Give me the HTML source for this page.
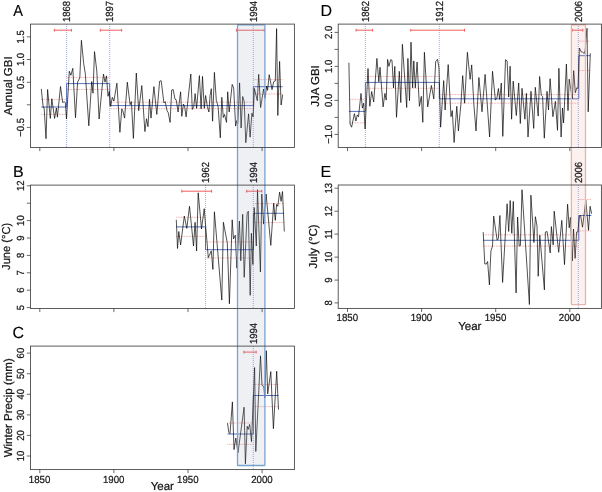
<!DOCTYPE html>
<html><head><meta charset="utf-8"><title>Figure</title>
<style>
html,body{margin:0;padding:0;background:#fff;}
svg{display:block}
text{font-family:"Liberation Sans", Arial, Helvetica, sans-serif;text-rendering:geometricPrecision;fill:#151515;stroke:#151515;stroke-width:0.22px}
.pl{font-size:16px;fill:#000;stroke-width:0.15px}
.tk{font-size:10.3px}
.ax{font-size:11.5px}
.box{fill:none;stroke:#404040;stroke-width:0.85}
.tick{stroke:#383838;stroke-width:0.75;fill:none}
.ser{fill:none;stroke:#000;stroke-width:0.68;stroke-linejoin:miter;stroke-miterlimit:10}
.mean{fill:none;stroke:#3a58ad;stroke-width:0.85}
.sd{fill:none;stroke:#ef7d7d;stroke-width:0.8;stroke-dasharray:0.75 0.85}
.vd{fill:none;stroke:#a6b1ea;stroke-width:1.1;stroke-dasharray:0.9 1.1}
.ci{fill:none;stroke:#ee4c4c;stroke-width:0.9}
</style></head><body>
<svg width="602" height="492" viewBox="0 0 602 492">
<rect x="0" y="0" width="602" height="492" fill="#fff"/>

<g id="panel-A-data">
<line class="vd" x1="66.6" y1="24.1" x2="66.6" y2="147.5"/>
<line class="vd" x1="109.7" y1="24.1" x2="109.7" y2="147.5"/>
<line class="vd" x1="253.3" y1="24.1" x2="253.3" y2="147.5"/>
<line class="sd" x1="41.3" y1="99.4" x2="66.6" y2="99.4"/>
<line class="sd" x1="41.3" y1="114.4" x2="66.6" y2="114.4"/>
<line class="sd" x1="66.6" y1="77.4" x2="109.7" y2="77.4"/>
<line class="sd" x1="66.6" y1="89.5" x2="109.7" y2="89.5"/>
<line class="sd" x1="109.7" y1="102.2" x2="253.4" y2="102.2"/>
<line class="sd" x1="109.7" y1="108.7" x2="253.4" y2="108.7"/>
<line class="sd" x1="253.4" y1="79.6" x2="282.6" y2="79.6"/>
<line class="sd" x1="253.4" y1="94" x2="282.6" y2="94"/>
<path class="mean" d="M41.3 107 L66.6 107 L66.6 83.6 L109.7 83.6 L109.7 105.6 L253.4 105.6 L253.4 86.7 L282.6 86.7"/>
<polyline class="ser" points="41.3,88.9 43.2,107.4 44.1,107.4 46,138.7 47.6,89.5 50.3,118.4 51.8,98.8 54.6,118.4 56.4,108 57.4,117.2 60.5,86.5 62.6,102.4 64.4,101.8 65.3,102.4 66.5,119 69.3,71.3 70.9,75.3 72.8,68.3 75.5,117.8 77.6,82.1 79.8,77.8 81.4,40.3 83.7,63.6 85.3,73.5 88.8,125.8 91.7,81.5 93,93.2 94.5,51.6 96.8,71 99.1,119 102.5,83.3 103.5,74.1 105,82.1 106.5,75.9 108,96.3 109.3,91.4 110.7,106.4 112.3,97.3 113.9,101 116.9,83.2 119.9,132.3 121.8,108.9 122.8,110.7 124.6,118.1 127.3,82.2 130.1,104.7 131.4,101.6 133.4,138.4 136.3,73 138.7,110.7 141.8,85.6 144.9,131.6 146.5,118.7 148,126.7 149.5,99.2 151,118.1 153.9,86.6 156.8,114.4 159.6,81.3 161.2,80.7 163.9,102.9 165.2,101.6 167,110.7 168.2,112.6 170.1,122.4 171.7,90 173.2,89.6 175,99.2 176.2,99.8 178.1,112 180.6,91.8 181.8,116.3 183.4,104.1 184.5,105.8 186.1,116.9 190.8,74 192.3,109.5 193.8,106.4 195.1,93.6 196.6,108.3 199.4,75.6 201.1,108.9 202.5,76.4 204.3,108.3 205.6,95.5 207.3,106.4 208.9,112 210.1,95.5 211.3,88.7 212.6,121.2 214.4,72.4 216.3,100.4 218.1,106.4 220.3,137.8 221.8,97.3 223.3,117.5 224.5,114.4 226.5,122.4 227.7,91.8 229.2,112 232.2,84.4 233.7,88.1 235.6,126.1 236.8,120.6 237.8,123.6 239.6,82.9 241.1,128 242.7,96.5 244.2,101.6 245.8,142.7 248.6,113.8 250.1,137.2 251.9,113.2 253.1,116.9 254.4,88.4 257.3,100.7 258.7,74.3 260.6,107.5 263.6,89 264.9,98.3 266.7,86 267.6,90.3 269.2,74.7 272,89.7 273.7,81.7 275.3,81 276.6,28.6 277.8,115.5 279.6,61.4 281.1,105 282.7,94.6"/>
<path class="ci" d="M54.3 30.2H71.4M54.3 28.8V31.6M71.4 28.8V31.6"/>
<path class="ci" d="M100.3 30.2H121.7M100.3 28.8V31.6M121.7 28.8V31.6"/>
<path class="ci" d="M236.4 30.2H264.3M236.4 28.8V31.6M264.3 28.8V31.6"/>
</g>
<g id="panel-B-data">
<line class="vd" x1="205.5" y1="185.1" x2="205.5" y2="308.5"/>
<line class="vd" x1="253.3" y1="185.1" x2="253.3" y2="308.5"/>
<line class="sd" x1="176.3" y1="217.3" x2="205.5" y2="217.3"/>
<line class="sd" x1="176.3" y1="236.4" x2="205.5" y2="236.4"/>
<line class="sd" x1="205.5" y1="241.9" x2="253.4" y2="241.9"/>
<line class="sd" x1="205.5" y1="258" x2="253.4" y2="258"/>
<line class="sd" x1="253.4" y1="203.6" x2="283.9" y2="203.6"/>
<line class="sd" x1="253.4" y1="222.5" x2="283.9" y2="222.5"/>
<path class="mean" d="M176.3 226.9 L205.5 226.9 L205.5 249.7 L253.4 249.7 L253.4 213.3 L283.9 213.3"/>
<polyline class="ser" points="176.3,219.8 177.5,248.5 178.8,231.5 180.6,245 184.3,216.1 186.8,228.4 189.5,206.3 193.5,246 195.1,222.3 196.6,250.9 198.2,192.8 201.5,229 204.2,208.7 208.3,257.7 211.3,250.9 212.9,269.4 214.4,211.8 221.8,300.1 223.4,222.3 227.3,243 229.4,303.8 232.2,219.8 233.5,238.9 235.3,235.2 236.8,268.1 239.4,221 240.8,260.8 242.7,214.3 244.2,277.3 247.1,213.7 248.3,211.2 250.2,295.3 251.4,233.3 252.9,264.6 254.2,207.5 256.3,246 257.5,189.7 260.4,272 261.8,194 263.6,224.1 266.1,194 270.8,245.4 273.7,203.2 275.3,220.4 276.6,204.4 277.8,206.3 279.6,192.1 281.1,201.4 282.5,191.5 284.3,231.5"/>
<path class="ci" d="M181.8 191.2H211.6M181.8 189.8V192.6M211.6 189.8V192.6"/>
<path class="ci" d="M246.7 191.2H261.8M246.7 189.8V192.6M261.8 189.8V192.6"/>
</g>
<g id="panel-C-data">
<line class="vd" x1="253.3" y1="346.1" x2="253.3" y2="469.6"/>
<line class="sd" x1="227.5" y1="423" x2="253.4" y2="423"/>
<line class="sd" x1="227.5" y1="444.4" x2="253.4" y2="444.4"/>
<line class="sd" x1="253.4" y1="384.4" x2="278.5" y2="384.4"/>
<line class="sd" x1="253.4" y1="406.6" x2="278.5" y2="406.6"/>
<path class="mean" d="M227.5 434 L253.4 434 L253.4 395.5 L278.5 395.5"/>
<polyline class="ser" points="227.5,423.2 228.8,432.4 230,433.7 232.4,401.9 234,449.6 235.8,438 238,452.7 244.1,407.2 245.4,463.8 247.2,426.3 248.2,429.4 249.7,424.4 251.5,441.6 254.6,367.5 255.8,451.5 260.5,355.8 262,385.3 263.8,386.6 264.8,398 266.3,350.7 267.7,393.9 270.8,371.6 273.4,428.7 276.7,371.2 278.5,409.7"/>
<path class="ci" d="M243.9 352.1H256.2M243.9 350.7V353.5M256.2 350.7V353.5"/>
</g>
<g id="panel-D-data">
<line class="vd" x1="365.4" y1="24.1" x2="365.4" y2="147.5"/>
<line class="vd" x1="439.3" y1="24.1" x2="439.3" y2="147.5"/>
<line class="vd" x1="578.3" y1="24.1" x2="578.3" y2="147.5"/>
<line class="sd" x1="348.9" y1="99.3" x2="365.4" y2="99.3"/>
<line class="sd" x1="348.9" y1="122.9" x2="365.4" y2="122.9"/>
<line class="sd" x1="365.4" y1="76.5" x2="439.3" y2="76.5"/>
<line class="sd" x1="365.4" y1="88.3" x2="439.3" y2="88.3"/>
<line class="sd" x1="439.3" y1="94.6" x2="578.8" y2="94.6"/>
<line class="sd" x1="439.3" y1="103.2" x2="578.8" y2="103.2"/>
<line class="sd" x1="578.8" y1="41.2" x2="590.2" y2="41.2"/>
<line class="sd" x1="578.8" y1="70.5" x2="590.2" y2="70.5"/>
<path class="mean" d="M348.9 111.4 L365.4 111.4 L365.4 82.4 L439.3 82.4 L439.3 98.8 L578.8 98.8 L578.8 55.7 L590.2 55.7"/>
<polyline class="ser" points="348.9,62.7 350.1,124.1 351.6,127.2 354.4,113.7 355.9,121 357.3,114.9 358.5,116.7 361,93.4 362.4,108.1 363.7,103.2 365.1,129 368,68.5 369.8,106.3 371.7,91.5 373.7,102 376.9,58.4 378.8,81.8 380,67.3 383.1,106.9 384.9,93.4 386.2,100.1 387.6,59.4 388.9,66.4 390.7,59.7 392,60.3 393.5,87.9 394.8,66.4 396.5,117.3 399.3,71.3 400.8,102.6 402.4,44.3 406.7,107.5 407.9,58.4 409.5,100.8 411,42.2 412.6,87.9 413.8,60.9 415.3,87.9 417.1,62.1 419.4,106.3 421.3,96.4 422.8,122.3 424.4,52.3 427.7,106.9 431.4,85.5 433.8,98.9 435.7,61.5 437.5,59.3 439,68 440.6,127.2 443.7,80.6 445.1,110 448.2,64.6 451,116.7 452.3,110.6 454.1,142.5 456.8,106.3 458.4,130.9 460.9,104.4 462.7,75.6 464.6,103.2 467.4,52.3 470.1,79.3 471.7,64.9 473.8,103.8 476,130.9 478.9,77.5 482,111.8 485.1,74.4 489.6,137 492.5,71.3 495.4,100.1 496.9,98.3 498.4,88.5 499.7,99.5 501.3,83 502.8,136.4 505.5,59.7 507.1,60.9 508.7,97 510.1,66.2 511.6,119.2 513.2,81.2 516.3,115.5 518.7,83 520.3,123.5 522,88.3 524.9,119.2 526.4,93.4 528,137 531,91.3 533.7,128.4 535.3,87.3 538.2,116.1 539.6,76.5 541.3,95.2 542.6,96.4 544.3,138.2 547,91.3 548.5,110 550.1,78.7 552.9,116.7 555.4,101.4 557.5,130.3 558.9,68.3 561.1,137 562.5,108 563.6,122.9 566.4,64 568,110.6 569.2,79.2 572.3,98.9 573.7,70.6 575.3,92.7 576.8,87.8 578,88.4 579.4,48 581.1,51.7 582.7,52.3 584.3,53.5 585.2,49.8 587,28.3 588.2,111.8 590.3,53.3"/>
<path class="ci" d="M356.1 30.2H372.6M356.1 28.8V31.6M372.6 28.8V31.6"/>
<path class="ci" d="M410.8 30.2H464.5M410.8 28.8V31.6M464.5 28.8V31.6"/>
<path class="ci" d="M572.2 30.2H582.8M572.2 28.8V31.6M582.8 28.8V31.6"/>
</g>
<g id="panel-E-data">
<line class="vd" x1="578.3" y1="185" x2="578.3" y2="308.4"/>
<line class="sd" x1="483.2" y1="234.8" x2="578.8" y2="234.8"/>
<line class="sd" x1="483.2" y1="246.1" x2="578.8" y2="246.1"/>
<line class="sd" x1="578.8" y1="199.5" x2="591.4" y2="199.5"/>
<line class="sd" x1="578.8" y1="230.9" x2="591.4" y2="230.9"/>
<path class="mean" d="M483.2 240.3 L578.8 240.3 L578.8 215.5 L591.4 215.5"/>
<polyline class="ser" points="483.2,232.1 484.8,264 486.4,264 487.6,261.5 489.4,284.9 490.9,251.1 492.5,246.1 493.7,216.1 497.1,240.1 498.3,238.9 499.9,215.5 502.6,282.4 507.1,203.8 508.7,231.5 510.2,200.5 511.8,233.3 513.3,201.4 516.1,292.9 517.6,217 519.2,246.1 520.4,245.5 522,189.7 529.4,304.5 530.9,195.2 532.7,222.9 533.9,242.5 535.4,216.7 537,226 538.2,276.3 539.8,235.2 544.4,289.8 545.4,232.1 547.1,231.5 550.2,252.9 551.4,226.6 553.2,244.9 554.2,211.2 558.7,252.3 561.8,220.4 564.5,264.6 567.6,204.2 569.2,227.8 570.4,217.3 572.3,260.9 573.5,229 575.1,258.4 576.6,232.1 577.8,232.1 579.4,216.1 580.6,215.5 582.5,227.2 584.3,213 585.8,200.1 588.5,230.3 590.1,206.3 591.6,213.7"/>
</g>
<rect x="237.5" y="24.9" width="27.4" height="440.6" rx="0.4" ry="0.4" fill="#8b97b8" fill-opacity="0.15" stroke="#7aa2d0" stroke-width="1.3"/>
<rect x="571.4" y="24.7" width="14.1" height="279.9" rx="0.6" ry="0.6" fill="#d88a7c" fill-opacity="0.115" stroke="#e8b4ae" stroke-width="1.35"/>
<g id="panel-A-frame">
<rect class="box" x="30.5" y="24.1" width="263.9" height="123.4"/>
<path class="tick" d="M39.8 147.5v3.6M113.9 147.5v3.6M188 147.5v3.6M262.1 147.5v3.6M30.5 36.9h-3.7M30.5 59.5h-3.7M30.5 82.3h-3.7M30.5 104.8h-3.7M30.5 127.4h-3.7"/>
<text class="tk" text-anchor="middle" transform="translate(24.1 36.9) rotate(-90) scale(0.92 1)">1.5</text>
<text class="tk" text-anchor="middle" transform="translate(24.1 59.5) rotate(-90) scale(0.92 1)">1.0</text>
<text class="tk" text-anchor="middle" transform="translate(24.1 82.3) rotate(-90) scale(0.92 1)">0.5</text>
<text class="tk" text-anchor="middle" transform="translate(24.1 127.4) rotate(-90) scale(0.92 1)">−0.5</text>
<text class="ax" text-anchor="middle" transform="translate(11.6 85.8) rotate(-90) scale(1 1)">Annual GBI</text>
<text class="pl" transform="translate(13.2 15.6) scale(0.91 1)">A</text>
<text class="tk" transform="translate(69.8 22.1) rotate(-90) scale(0.92 1)">1868</text>
<text class="tk" transform="translate(112.9 22.1) rotate(-90) scale(0.92 1)">1897</text>
<text class="tk" transform="translate(256.5 22.1) rotate(-90) scale(0.92 1)">1994</text>
</g>
<g id="panel-B-frame">
<rect class="box" x="30.5" y="185.1" width="263.9" height="123.4"/>
<path class="tick" d="M39.8 308.5v3.6M113.9 308.5v3.6M188 308.5v3.6M262.1 308.5v3.6M30.5 185.8h-3.7M30.5 203.2h-3.7M30.5 220.6h-3.7M30.5 238h-3.7M30.5 255.4h-3.7M30.5 272.8h-3.7M30.5 290.2h-3.7M30.5 307.6h-3.7"/>
<text class="tk" text-anchor="middle" transform="translate(24.1 185.8) rotate(-90) scale(0.92 1)">12</text>
<text class="tk" text-anchor="middle" transform="translate(24.1 220.6) rotate(-90) scale(0.92 1)">10</text>
<text class="tk" text-anchor="middle" transform="translate(24.1 238) rotate(-90) scale(0.92 1)">9</text>
<text class="tk" text-anchor="middle" transform="translate(24.1 255.4) rotate(-90) scale(0.92 1)">8</text>
<text class="tk" text-anchor="middle" transform="translate(24.1 272.8) rotate(-90) scale(0.92 1)">7</text>
<text class="tk" text-anchor="middle" transform="translate(24.1 290.2) rotate(-90) scale(0.92 1)">6</text>
<text class="tk" text-anchor="middle" transform="translate(24.1 307.6) rotate(-90) scale(0.92 1)">5</text>
<text class="ax" text-anchor="middle" transform="translate(9.7 246.4) rotate(-90) scale(0.965 1)">June (°C)</text>
<text class="pl" transform="translate(13 176.7) scale(1 1)">B</text>
<text class="tk" transform="translate(208.7 183.1) rotate(-90) scale(0.92 1)">1962</text>
<text class="tk" transform="translate(256.5 183.1) rotate(-90) scale(0.92 1)">1994</text>
</g>
<g id="panel-C-frame">
<rect class="box" x="30.5" y="346.1" width="263.9" height="123.5"/>
<path class="tick" d="M39.8 469.6v3.6M113.9 469.6v3.6M188 469.6v3.6M262.1 469.6v3.6M30.5 353.1h-3.7M30.5 373.7h-3.7M30.5 394.3h-3.7M30.5 414.9h-3.7M30.5 435.4h-3.7M30.5 456h-3.7"/>
<text class="tk" text-anchor="middle" transform="translate(24.1 353.1) rotate(-90) scale(0.92 1)">60</text>
<text class="tk" text-anchor="middle" transform="translate(24.1 373.7) rotate(-90) scale(0.92 1)">50</text>
<text class="tk" text-anchor="middle" transform="translate(24.1 394.3) rotate(-90) scale(0.92 1)">40</text>
<text class="tk" text-anchor="middle" transform="translate(24.1 414.9) rotate(-90) scale(0.92 1)">30</text>
<text class="tk" text-anchor="middle" transform="translate(24.1 435.4) rotate(-90) scale(0.92 1)">20</text>
<text class="tk" text-anchor="middle" transform="translate(24.1 456) rotate(-90) scale(0.92 1)">10</text>
<text class="tk" text-anchor="middle" transform="translate(39.6 482.5) scale(0.94 1)">1850</text>
<text class="tk" text-anchor="middle" transform="translate(113.7 482.5) scale(0.94 1)">1900</text>
<text class="tk" text-anchor="middle" transform="translate(187.8 482.5) scale(0.94 1)">1950</text>
<text class="tk" text-anchor="middle" transform="translate(261.9 482.5) scale(0.94 1)">2000</text>
<text class="ax" text-anchor="middle" x="162.3" y="490.2">Year</text>
<text class="ax" text-anchor="middle" transform="translate(11.6 407.8) rotate(-90) scale(1 1)">Winter Precip (mm)</text>
<text class="pl" transform="translate(12.6 338.2) scale(1 1)">C</text>
<text class="tk" transform="translate(256.5 344.1) rotate(-90) scale(0.92 1)">1994</text>
</g>
<g id="panel-D-frame">
<rect class="box" x="338.2" y="24.1" width="263.2" height="123.4"/>
<path class="tick" d="M347.5 147.5v3.6M421.6 147.5v3.6M495.7 147.5v3.6M569.8 147.5v3.6M338.2 32.4h-3.7M338.2 49.4h-3.7M338.2 66.4h-3.7M338.2 83.4h-3.7M338.2 100.4h-3.7M338.2 117.4h-3.7M338.2 134.4h-3.7"/>
<text class="tk" text-anchor="middle" transform="translate(331.8 32.4) rotate(-90) scale(0.92 1)">2.0</text>
<text class="tk" text-anchor="middle" transform="translate(331.8 66.4) rotate(-90) scale(0.92 1)">1.0</text>
<text class="tk" text-anchor="middle" transform="translate(331.8 100.4) rotate(-90) scale(0.92 1)">0.0</text>
<text class="tk" text-anchor="middle" transform="translate(331.8 134.4) rotate(-90) scale(0.92 1)">−1.0</text>
<text class="ax" text-anchor="middle" transform="translate(318.8 86) rotate(-90) scale(1 1)">JJA GBI</text>
<text class="pl" transform="translate(320.5 15.8) scale(1 1)">D</text>
<text class="tk" transform="translate(368.6 22.1) rotate(-90) scale(0.92 1)">1862</text>
<text class="tk" transform="translate(442.5 22.1) rotate(-90) scale(0.92 1)">1912</text>
<text class="tk" transform="translate(581.5 22.1) rotate(-90) scale(0.92 1)">2006</text>
</g>
<g id="panel-E-frame">
<rect class="box" x="338.2" y="185" width="263.2" height="123.4"/>
<path class="tick" d="M347.5 308.4v3.6M421.6 308.4v3.6M495.7 308.4v3.6M569.8 308.4v3.6M338.2 188.2h-3.7M338.2 211.2h-3.7M338.2 234.1h-3.7M338.2 257.1h-3.7M338.2 280.1h-3.7M338.2 302.9h-3.7"/>
<text class="tk" text-anchor="middle" transform="translate(331.8 188.2) rotate(-90) scale(0.92 1)">13</text>
<text class="tk" text-anchor="middle" transform="translate(331.8 211.2) rotate(-90) scale(0.92 1)">12</text>
<text class="tk" text-anchor="middle" transform="translate(331.8 234.1) rotate(-90) scale(0.92 1)">11</text>
<text class="tk" text-anchor="middle" transform="translate(331.8 257.1) rotate(-90) scale(0.92 1)">10</text>
<text class="tk" text-anchor="middle" transform="translate(331.8 280.1) rotate(-90) scale(0.92 1)">9</text>
<text class="tk" text-anchor="middle" transform="translate(331.8 302.9) rotate(-90) scale(0.92 1)">8</text>
<text class="tk" text-anchor="middle" transform="translate(347.3 321.4) scale(0.94 1)">1850</text>
<text class="tk" text-anchor="middle" transform="translate(421.4 321.4) scale(0.94 1)">1900</text>
<text class="tk" text-anchor="middle" transform="translate(495.5 321.4) scale(0.94 1)">1950</text>
<text class="tk" text-anchor="middle" transform="translate(569.6 321.4) scale(0.94 1)">2000</text>
<text class="ax" text-anchor="middle" x="469.8" y="329.5">Year</text>
<text class="ax" text-anchor="middle" transform="translate(316.7 246.4) rotate(-90) scale(1 1)">July (°C)</text>
<text class="pl" transform="translate(320.5 176.7) scale(1 1)">E</text>
<text class="tk" transform="translate(581.5 183) rotate(-90) scale(0.92 1)">2006</text>
</g>
</svg></body></html>
